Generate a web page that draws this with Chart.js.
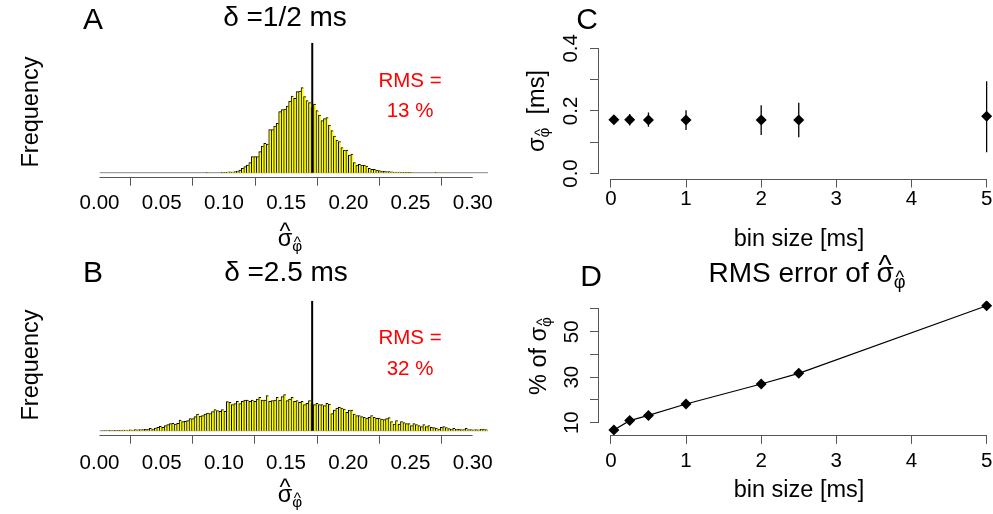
<!DOCTYPE html>
<html>
<head>
<meta charset="utf-8">
<script src="https://cdn.jsdelivr.net/npm/chart.js@4.4.1/dist/chart.umd.min.js"></script>
<style>
  html, body { margin: 0; padding: 0; background: #fff; }
  body { position: relative; width: 993px; height: 514px; overflow: hidden; font-family: 'Liberation Sans', Arial, sans-serif; color: #000; }
  canvas { position: absolute; }
  .t { position: absolute; transform: translate(-50%, -50%); white-space: nowrap; line-height: 1; }
  .rot { transform: translate(-50%, -50%) rotate(-90deg); }
  .letter { font-size: 30px; }
  .main { font-size: 28px; }
  .lab { font-size: 23.5px; }
  .rms { font-size: 20.5px; color: #f00; text-align: center; }
  .hat { position: relative; display: inline-block; }
  .hat::after { content: '^'; position: absolute; left: 0; right: 0; text-align: center; top: -0.3em; }
  .sub { font-size: 0.65em; vertical-align: -0.35em; }
</style>
</head>
<body>
<canvas id="chartA" width="500" height="255" style="left:0;top:0"></canvas>
<canvas id="chartB" width="500" height="255" style="left:0;top:258px"></canvas>
<canvas id="chartC" width="507" height="255" style="left:500px;top:0"></canvas>
<canvas id="chartD" width="507" height="255" style="left:500px;top:258px"></canvas>

<div class="t letter" style="left:93px;top:19px">A</div>
<div class="t main" style="left:285px;top:17px">δ =1/2 ms</div>
<div class="t lab rot" style="left:31px;top:112px">Frequency</div>
<div class="t rms" style="left:410px;top:80px">RMS =</div>
<div class="t rms" style="left:410px;top:110px">13 %</div>
<div class="t lab" style="left:290px;top:240px"><span class="hat">σ</span><span class="sub"><span class="hat">φ</span></span></div>

<div class="t letter" style="left:93px;top:272px">B</div>
<div class="t main" style="left:286px;top:272px">δ =2.5 ms</div>
<div class="t lab rot" style="left:31px;top:365px">Frequency</div>
<div class="t rms" style="left:410px;top:337px">RMS =</div>
<div class="t rms" style="left:410px;top:368px">32 %</div>
<div class="t lab" style="left:290px;top:496px"><span class="hat">σ</span><span class="sub"><span class="hat">φ</span></span></div>

<div class="t letter" style="left:587px;top:19px">C</div>
<div class="t lab rot" style="left:538px;top:111px">σ<span class="sub"><span class="hat">φ</span></span>&nbsp;&nbsp;[ms]</div>
<div class="t lab" style="left:799px;top:239px">bin size [ms]</div>

<div class="t letter" style="left:591px;top:276px">D</div>
<div class="t main" style="left:807px;top:275px">RMS error of <span class="hat">σ</span><span class="sub"><span class="hat">φ</span></span></div>
<div class="t lab rot" style="left:540px;top:356px">% of σ<span class="sub"><span class="hat">φ</span></span></div>
<div class="t lab" style="left:799px;top:490px">bin size [ms]</div>

<script>
// histograms A and B: bins of 0.002 starting at 0
const binWidth = 0.002;
const histMax = 0.3125;
const sigmaTrue = 0.171;
const sigmaLineTop = 130;
const histTicks = [0, 0.05, 0.1, 0.15, 0.2, 0.25, 0.3];
const histTickLabels = ['0.00', '0.05', '0.10', '0.15', '0.20', '0.25', '0.30'];

const freqHalfMs = [
  0, 0, 0, 0, 0, 0, 0, 0, 0, 0,
  0, 0, 0, 0, 0, 0, 0, 0, 0, 0,
  0, 0, 0, 0, 0, 0, 0, 0, 0, 0,
  0, 0, 0, 0, 0, 0, 0, 0, 0, 0,
  0, 0, 0, 0.4, 0, 0, 0, 0, 0, 0.3,
  0.4, 0.6, 0.8, 0.7, 1.2, 1.6, 2.5, 4.3, 6, 7.7,
  10, 16, 16, 16, 21, 26.7, 29.3, 28.5, 43, 43,
  46.7, 49.3, 61, 63, 63.5, 66.7, 71.7, 76.7, 74.3, 81,
  81.7, 85, 76, 72, 70, 65, 68.7, 62, 57.7, 52,
  54, 55, 47.7, 42, 36.7, 32.7, 31, 25, 22.7, 22.7,
  17.7, 18.7, 10, 7.7, 8.3, 7.7, 7.7, 6.7, 4.3, 3.3,
  3.3, 2.7, 2, 1.7, 1.4, 1.2, 1, 0.8, 0.7, 0.6,
  0.5, 0.4, 0.4, 0.3, 0.3, 0.4, 0, 0, 0, 0,
  0, 0, 0, 0, 0, 0.4, 0, 0, 0, 0,
  0, 0, 0, 0, 0, 0, 0, 0, 0, 0,
  0, 0, 0, 0, 0, 0
];

const freq2p5Ms = [
  0, 0, 0.2, 0, 0.3, 0.2, 0.3, 0.4, 0.3, 0.5,
  0.5, 0.6, 0.8, 0.7, 1, 0.8, 1.2, 1, 1.3, 1.7,
  2.3, 1.6, 2.7, 3.3, 4.3, 3.3, 5, 6, 7, 7.3,
  6.7, 7.3, 10.7, 9, 9.3, 10, 12, 12, 14, 16.7,
  14.7, 15, 16.7, 17.7, 17, 19, 21, 20, 19.3, 21,
  19.3, 29, 28.3, 26, 27, 29.3, 27, 29.3, 30.7, 30.7,
  29.3, 30.7, 29.3, 31.7, 33.3, 30.7, 30.7, 35, 29.3, 30,
  30.7, 33.3, 30.7, 34, 36, 30, 31.7, 33.3, 29.3, 30,
  28.3, 29.3, 26, 27.3, 30, 27, 26, 27.3, 26, 26,
  25, 27.3, 26.7, 17, 20.7, 22.7, 23.3, 22.7, 21.7, 18.3,
  20.7, 20.7, 16.7, 15, 15, 14, 13.3, 12.7, 13.3, 15,
  13.3, 12.3, 12.7, 11.7, 11, 12, 13, 9, 6.7, 10,
  6.7, 9, 8, 7, 7, 5, 7, 6, 5, 4,
  6, 4, 5, 3.3, 3, 2.7, 1.7, 3.3, 4, 3,
  2, 1.7, 2.3, 1.5, 1.3, 1, 1, 2.3, 1, 1,
  0.8, 1, 0.8, 1.5, 1.5, 1
];

// panels C and D
const binSizes = [0.04, 0.25, 0.5, 1, 2, 2.5, 5];
const sigmaMean = [0.172, 0.172, 0.171, 0.171, 0.171, 0.171, 0.183];
const sigmaLow = [0.161, 0.153, 0.149, 0.139, 0.123, 0.116, 0.068];
const sigmaHigh = [0.183, 0.190, 0.195, 0.202, 0.218, 0.226, 0.295];
const rmsPercent = [6.8, 10.9, 13.2, 18.2, 27.0, 31.7, 61.4];
const binTicks = [0, 1, 2, 3, 4, 5];
const sigmaTicks = [0, 0.1, 0.2, 0.3, 0.4];
const sigmaTickLabels = ['0.0', '', '0.2', '', '0.4'];
const rmsTicks = [10, 20, 30, 40, 50, 60];
const rmsTickLabels = ['10', '', '30', '', '50', ''];

Chart.defaults.font.family = "'Liberation Sans', Arial, sans-serif";
Chart.defaults.color = '#000';

const axisColor = '#555';

// R style axis line: only from first to last tick
const axisLines = {
  id: 'axisLines',
  afterDatasetsDraw(chart, args, opts) {
    const { ctx, chartArea, scales } = chart;
    ctx.save();
    ctx.strokeStyle = axisColor;
    ctx.lineWidth = 1;
    ctx.beginPath();
    if (opts.x) {
      const y = Math.round(chartArea.bottom) + 0.5;
      ctx.moveTo(scales.x.getPixelForValue(opts.x[0]), y);
      ctx.lineTo(scales.x.getPixelForValue(opts.x[1]), y);
    }
    if (opts.y) {
      const x = Math.round(chartArea.left) - 0.5;
      ctx.moveTo(x, scales.y.getPixelForValue(opts.y[0]));
      ctx.lineTo(x, scales.y.getPixelForValue(opts.y[1]));
    }
    ctx.stroke();
    ctx.restore();
  }
};

function tickScale(values, labels, extra) {
  return Object.assign({
    type: 'linear',
    offset: false,
    border: { display: false },
    grid: { drawOnChartArea: false, drawTicks: true, tickLength: 9, color: axisColor, lineWidth: 1 },
    afterBuildTicks: s => { s.ticks = values.map(v => ({ value: v })); },
    ticks: { font: { size: 20.5 }, color: '#000', maxRotation: 0, autoSkip: false, callback: (v, i) => labels[i] }
  }, extra);
}

function makeHist(id, freq) {
  const bars = freq.map((f, i) => ({ x: (i + 0.5) * binWidth, y: f }));
  return new Chart(document.getElementById(id), {
    type: 'bar',
    data: {
      datasets: [
        { type: 'line', data: [{ x: sigmaTrue, y: 0 }, { x: sigmaTrue, y: sigmaLineTop }], borderColor: '#000', borderWidth: 2, pointRadius: 0, order: 0 },
        { data: bars, backgroundColor: '#ffff00', borderColor: '#000', borderWidth: { left: 1, top: 1, right: 0, bottom: 0 }, borderSkipped: false, barPercentage: 1, categoryPercentage: 1, order: 1 },
        { type: 'line', data: [{ x: 0, y: 0 }, { x: histMax, y: 0 }], borderColor: '#888', borderWidth: 1, pointRadius: 0, order: 2 }
      ]
    },
    options: {
      responsive: false, animation: false, events: [],
      layout: { padding: { left: 99.5, right: 11.7, top: 42.7, bottom: 0 } },
      plugins: { legend: { display: false }, tooltip: { enabled: false }, axisLines: { x: [0, 0.3] } },
      scales: {
        x: tickScale(histTicks, histTickLabels, {
          min: 0, max: histMax,
          afterFit: s => { s.height = 78.3; }
        }),
        y: { display: false, min: -4, max: 130 }
      }
    },
    plugins: [axisLines]
  });
}

makeHist('chartA', freqHalfMs);
makeHist('chartB', freq2p5Ms);
Chart.getChart('chartA').options.scales.x.ticks.padding = 5;
Chart.getChart('chartA').update();
Chart.getChart('chartB').options.scales.x.ticks.padding = 7;
Chart.getChart('chartB').update();

// C: mean with error bars
const errorBars = [];
binSizes.forEach((b, i) => {
  errorBars.push({ x: b, y: sigmaLow[i] }, { x: b, y: sigmaHigh[i] }, { x: b, y: null });
});

function binScale(pad) {
  return tickScale(binTicks, binTicks.map(String), {
    min: -0.158, max: 5.198,
    afterFit: s => { s.height = pad.height; },
    ticks: { font: { size: 20.5 }, color: '#000', maxRotation: 0, autoSkip: false, padding: pad.ticks, callback: (v, i) => String(binTicks[i]) }
  });
}

function yScale(values, labels, min, max, pad) {
  const s = tickScale(values, labels, { min, max, afterFit: sc => { sc.width = 99; } });
  s.ticks = { font: { size: 20.5 }, color: '#000', minRotation: 90, maxRotation: 90, crossAlign: 'center', padding: pad, autoSkip: false, callback: (v, i) => labels[i] };
  return s;
}

new Chart(document.getElementById('chartC'), {
  type: 'line',
  data: {
    datasets: [
      { data: errorBars, borderColor: '#000', borderWidth: 1.3, pointRadius: 0, spanGaps: false },
      { data: binSizes.map((b, i) => ({ x: b, y: sigmaMean[i] })), showLine: false, pointStyle: 'rectRot', pointRadius: 5.5, backgroundColor: '#000', borderWidth: 0 }
    ]
  },
  options: {
    responsive: false, animation: false, events: [],
    layout: { padding: { left: 0, right: 5.4, top: 43.3, bottom: 0 } },
    plugins: { legend: { display: false }, tooltip: { enabled: false }, axisLines: { x: [0, 5], y: [0, 0.4] } },
    scales: {
      x: binScale({ height: 76.5, ticks: 0 }),
      y: yScale(sigmaTicks, sigmaTickLabels, -0.016, 0.416, 4.5)
    }
  },
  plugins: [axisLines]
});

// D: RMS error in % of sigma
new Chart(document.getElementById('chartD'), {
  type: 'line',
  data: {
    datasets: [
      { data: binSizes.map((b, i) => ({ x: b, y: rmsPercent[i] })), borderColor: '#000', borderWidth: 1.2, pointStyle: 'rectRot', pointRadius: 5.5, pointBackgroundColor: '#000', pointBorderWidth: 0 }
    ]
  },
  options: {
    responsive: false, animation: false, events: [],
    layout: { padding: { left: 0, right: 5.4, top: 42.85, bottom: 0 } },
    plugins: { legend: { display: false }, tooltip: { enabled: false }, axisLines: { x: [0, 5], y: [10, 60] } },
    scales: {
      x: binScale({ height: 78.1, ticks: 5 }),
      y: yScale(rmsTicks, rmsTickLabels, 4.62, 63.58, 6)
    }
  },
  plugins: [axisLines]
});
</script>
</body>
</html>
